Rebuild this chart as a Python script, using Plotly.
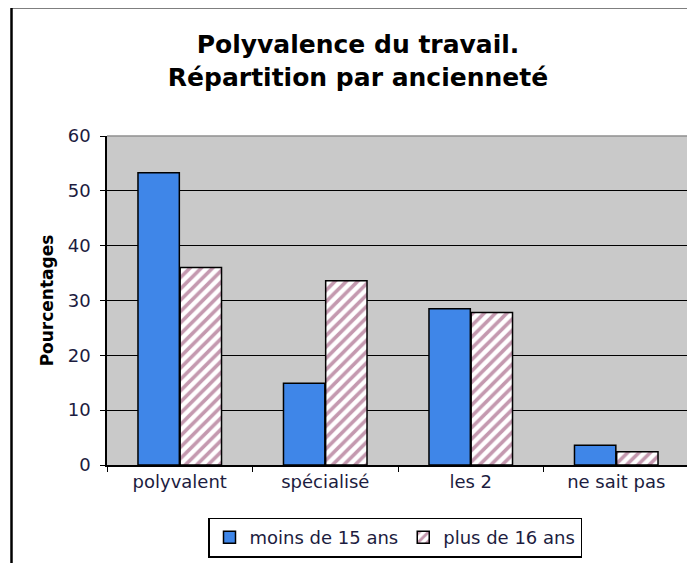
import plotly.graph_objects as go

categories = ["polyvalent", "spécialisé", "les 2", "ne sait pas"]
moins_15 = [53.3, 14.9, 28.5, 3.6]
plus_16 = [36.0, 33.6, 27.8, 2.4]
series_names = ["moins de 15 ans", "plus de 16 ans"]
y_ticks = [0, 10, 20, 30, 40, 50, 60]

FONT = "DejaVu Sans, Verdana, sans-serif"
TICK_COLOR = "#1c1c40"

# the page body adds an 8px offset, so the figure is 8px smaller than the window
OFF = 8
W, H = 695 - OFF, 563 - OFF
L, T = 107 - OFF, 136 - OFF
R, B = W - (689 - OFF), H - (467 - OFF)
pw, ph = W - L - R, H - T - B

fig = go.Figure()
fig.add_trace(
    go.Bar(
        x=categories,
        y=moins_15,
        name=series_names[0],
        marker=dict(color="#3f86e8", line=dict(color="black", width=1.5)),
    )
)
fig.add_trace(
    go.Bar(
        x=categories,
        y=plus_16,
        name=series_names[1],
        marker=dict(
            color="white",
            line=dict(color="black", width=1.5),
            pattern=dict(
                shape="/",
                fgcolor="#8a3360",
                bgcolor="white",
                size=8,
                solidity=0.45,
                fillmode="overlay",
            ),
        ),
    )
)

fig.update_layout(
    width=W,
    height=H,
    margin=dict(l=L, r=R, t=T, b=B),
    paper_bgcolor="white",
    plot_bgcolor="#c9c9c9",
    barmode="group",
    bargap=0.42,
    bargroupgap=0.02,
    font=dict(family=FONT, size=18, color=TICK_COLOR),
    title=dict(
        text="Polyvalence du travail.<br>Répartition par ancienneté",
        font=dict(family=FONT, size=25, color="black", weight="bold"),
        x=(358 - OFF) / W,
        xanchor="center",
        y=1 - (53 - OFF) / H,
        yanchor="middle",
    ),
    legend=dict(
        orientation="h",
        x=(395 - OFF - L) / pw,
        xanchor="center",
        y=(T + ph - (540 - OFF)) / ph,
        yanchor="middle",
        bordercolor="black",
        borderwidth=1.5,
        bgcolor="white",
        font=dict(family=FONT, size=18, color=TICK_COLOR),
        itemwidth=30,
    ),
    showlegend=True,
)

fig.update_xaxes(
    type="category",
    showgrid=False,
    showline=True,
    linecolor="black",
    linewidth=1.5,
    ticks="outside",
    tickson="boundaries",
    ticklen=5,
    tickcolor="black",
    tickfont=dict(family=FONT, size=18, color=TICK_COLOR),
)
fig.update_yaxes(
    range=[0, 60],
    tickvals=y_ticks,
    showgrid=True,
    gridcolor="black",
    gridwidth=1,
    zeroline=False,
    showline=True,
    linecolor="black",
    linewidth=1.5,
    ticks="outside",
    ticklen=5,
    tickcolor="black",
    ticklabelstandoff=6,
    tickfont=dict(family=FONT, size=18, color=TICK_COLOR),
    title=dict(
        text="Pourcentages",
        font=dict(family=FONT, size=17, color="black", weight="bold"),
        standoff=10,
    ),
)

# grey top and right edges of the plot area
fig.add_shape(type="line", xref="paper", yref="paper", x0=0, x1=1, y0=1, y1=1,
              line=dict(color="#8f8f8f", width=1.5), layer="above")
fig.add_shape(type="line", xref="paper", yref="paper", x0=1, x1=1, y0=0, y1=1,
              line=dict(color="#8f8f8f", width=1.5), layer="above")

# outer chart frame (only left and top visible in the crop)
fx = (11.5 - OFF - L) / pw
fy = 1 + (T - (6.5 - OFF)) / ph
fig.add_shape(type="line", xref="paper", yref="paper", x0=fx, x1=fx, y0=-1, y1=fy,
              line=dict(color="black", width=2.5))
fig.add_shape(type="line", xref="paper", yref="paper", x0=fx, x1=2, y0=fy, y1=fy,
              line=dict(color="black", width=2.5))

fig.write_html("out.html")
